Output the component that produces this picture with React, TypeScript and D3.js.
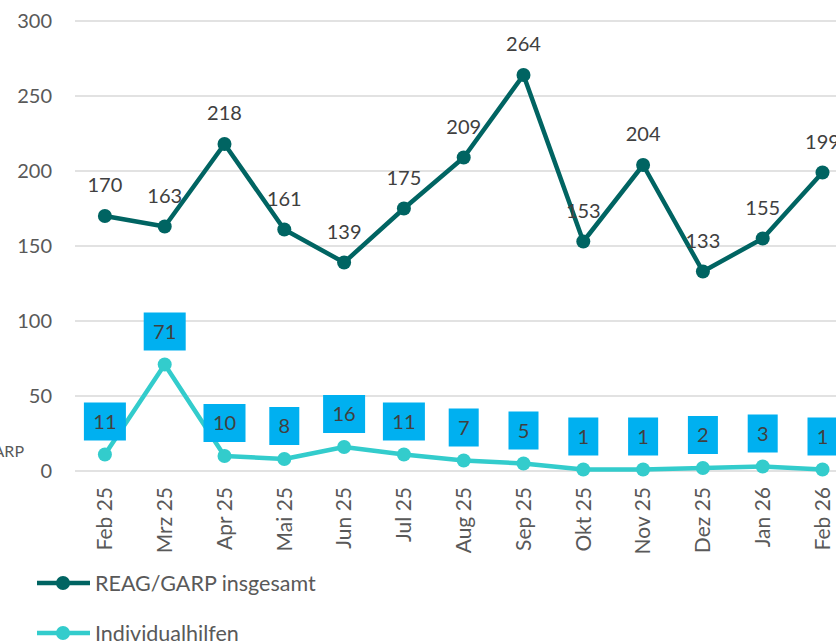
import React from "react";
import * as d3 from "d3";

const categories = ["Feb 25", "Mrz 25", "Apr 25", "Mai 25", "Jun 25", "Jul 25", "Aug 25", "Sep 25", "Okt 25", "Nov 25", "Dez 25", "Jan 26", "Feb 26"];
const reagValues = [170, 163, 218, 161, 139, 175, 209, 264, 153, 204, 133, 155, 199];
const individualValues = [11, 71, 10, 8, 16, 11, 7, 5, 1, 1, 2, 3, 1];
const yTicks = [0, 50, 100, 150, 200, 250, 300];
const seriesNames = ["REAG/GARP insgesamt", "Individualhilfen"];

const W = 836;
const H = 642;
const FONT = "Lato, 'Open Sans', sans-serif";
const DARK = "#006462";
const LIGHT = "#33CCCC";
const BOX = "#00B0F0";

export default function App() {
  const x = d3.scaleBand<string>().domain(categories).range([75, 75 + 13 * 59.8]);
  const y = d3.scaleLinear().domain([0, 300]).range([471, 21]);
  const cx = (c: string) => (x(c) as number) + x.bandwidth() / 2;
  const line = d3.line<number>().x((_, i) => cx(categories[i])).y((d) => y(d));

  return (
    <svg width={W} height={H} style={{ position: "absolute", left: 0, top: 0, background: "#fff" }} fontFamily={FONT}>
      {yTicks.map((t) => (
        <g key={t}>
          <line x1={75} x2={W} y1={y(t)} y2={y(t)} stroke="#d9d9d9" strokeWidth={1.5} />
          <text x={52} y={y(t)} dy="0.35em" textAnchor="end" fontSize={20} fill="#595959">{t}</text>
        </g>
      ))}
      <text x={24} y={451} dy="0.35em" textAnchor="end" fontSize={16} fill="#595959">REAG/GARP</text>
      {categories.map((c) => (
        <text key={c} transform={`translate(${cx(c)},${487}) rotate(-90)`} dy="0.35em" textAnchor="end" fontSize={21} fill="#595959">{c}</text>
      ))}
      <path d={line(reagValues) as string} fill="none" stroke={DARK} strokeWidth={4.5} strokeLinejoin="round" />
      {reagValues.map((v, i) => (
        <circle key={i} cx={cx(categories[i])} cy={y(v)} r={7} fill={DARK} />
      ))}
      {reagValues.map((v, i) => (
        <text key={i} x={cx(categories[i])} y={y(v) - 31} dy="0.35em" textAnchor="middle" fontSize={20} fill="#404040">{v}</text>
      ))}
      <path d={line(individualValues) as string} fill="none" stroke={LIGHT} strokeWidth={4.5} strokeLinejoin="round" />
      {individualValues.map((v, i) => (
        <circle key={i} cx={cx(categories[i])} cy={y(v)} r={7} fill={LIGHT} />
      ))}
      {individualValues.map((v, i) => {
        const w = String(v).length > 1 ? 42 : 30;
        const bx = cx(categories[i]);
        const by = y(v) - 33;
        return (
          <g key={i}>
            <rect x={bx - w / 2} y={by - 19} width={w} height={38} fill={BOX} />
            <text x={bx} y={by} dy="0.35em" textAnchor="middle" fontSize={20} fill="#404040">{v}</text>
          </g>
        );
      })}
      {seriesNames.map((n, i) => {
        const ly = 583 + i * 50;
        const col = i === 0 ? DARK : LIGHT;
        return (
          <g key={n}>
            <line x1={37} x2={90} y1={ly} y2={ly} stroke={col} strokeWidth={4.5} />
            <circle cx={63} cy={ly} r={7} fill={col} />
            <text x={95} y={ly} dy="0.35em" fontSize={21.5} fill="#595959">{n}</text>
          </g>
        );
      })}
    </svg>
  );
}
